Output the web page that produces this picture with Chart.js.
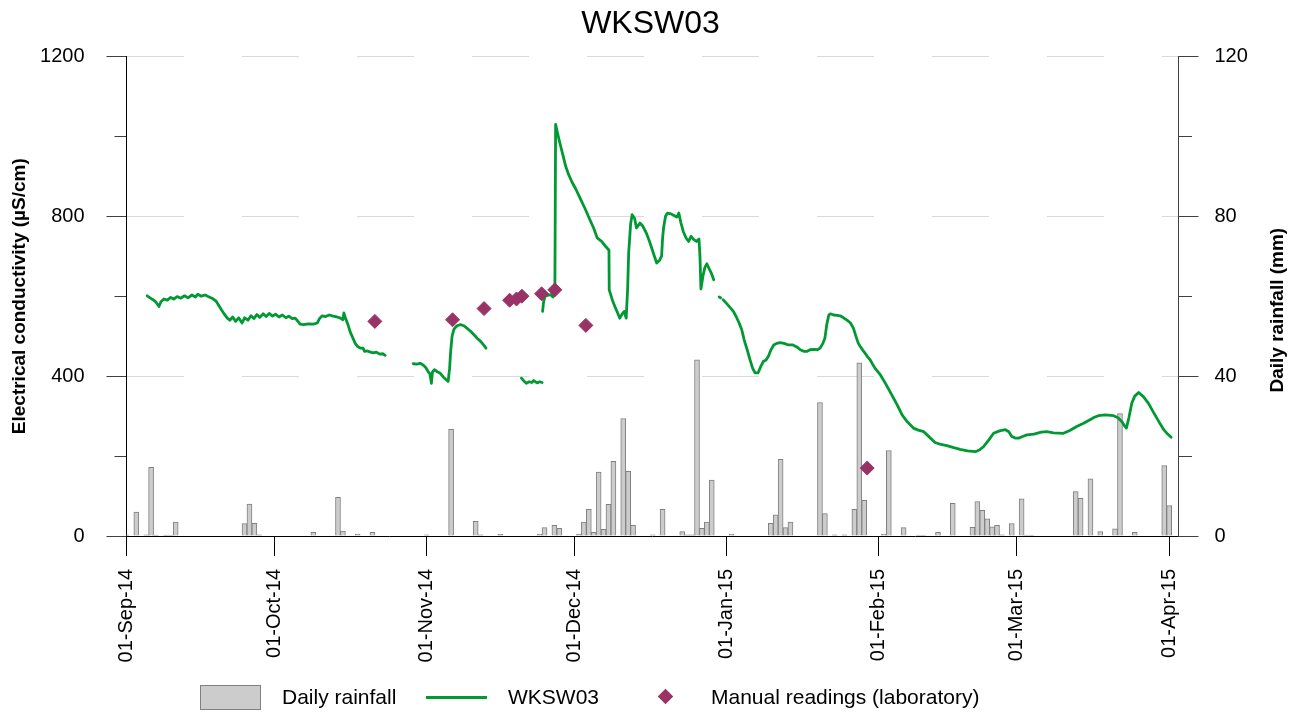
<!DOCTYPE html>
<html>
<head>
<meta charset="utf-8">
<title>WKSW03</title>
<script src="https://cdn.jsdelivr.net/npm/chart.js@4.4.1/dist/chart.umd.min.js"></script>
<style>
  body { margin: 0; background: #fff; }
  #wrap {
    position: relative;
    width: 1301px;
    height: 718px;
    overflow: hidden;
    font-family: 'Liberation Sans', Arial, sans-serif;
  }
  #chart { position: absolute; left: 0; top: 0; }
  .lg { position: absolute; }
  .lg-text { font-size: 21px; line-height: 24px; top: 685px; color: #000; white-space: nowrap; }
  .lg-bar { left: 200px; top: 685px; width: 61px; height: 25px; box-sizing: border-box; background: #cccccc; border: 1px solid #808080; }
  .lg-line { left: 426px; top: 696px; width: 61px; height: 3px; background: #009933; }
  .lg-diamond { left: 660px; top: 691px; width: 11px; height: 11px; background: #993366; transform: rotate(45deg); }
</style>
</head>
<body>
<div id="wrap">
  <canvas id="chart" width="1301" height="718"></canvas>
  <div class="lg lg-bar"></div>
  <div class="lg lg-text" style="left:282px">Daily rainfall</div>
  <div class="lg lg-line"></div>
  <div class="lg lg-text" style="left:508px">WKSW03</div>
  <div class="lg lg-diamond"></div>
  <div class="lg lg-text" style="left:711px">Manual readings (laboratory)</div>
</div>
<script>
// x values are days since 01-Sep-14
const monthDays = [0, 30, 61, 91, 122, 153, 181, 212];
const monthLabels = ['01-Sep-14', '01-Oct-14', '01-Nov-14', '01-Dec-14', '01-Jan-15', '01-Feb-15', '01-Mar-15', '01-Apr-15'];

// daily rainfall (mm)
const rainDays = [0, 2, 4, 5, 6, 8, 9, 10, 24, 25, 26, 27, 38, 43, 44, 47, 50, 61, 66, 71, 72, 76,
  84, 85, 87, 88, 92, 93, 94, 95, 96, 97, 98, 99, 101, 102, 103, 107, 109, 113, 114, 115, 116, 117, 118, 119,
  123, 131, 132, 133, 134, 135, 141, 142, 144, 146, 148, 149, 150, 154, 155, 158, 161, 162, 165, 168,
  172, 173, 174, 175, 176, 177, 178, 180, 182, 183, 184, 193, 194, 196, 198, 201, 202, 205, 211, 212];
const rainMm = [0.3, 6.0, 0.3, 17.2, 0.2, 0.2, 0.2, 3.5, 3.1, 8.0, 3.2, 0.3, 0.9, 9.7, 1.2, 0.5, 0.9, 0.3, 26.7, 3.7, 0.3, 0.4,
  0.5, 2.1, 2.7, 1.9, 0.5, 3.5, 6.7, 0.9, 16.0, 1.7, 7.9, 18.7, 29.4, 16.2, 2.7, 0.3, 6.7, 1.1, 0.3, 0.3, 44.1, 1.9, 3.5, 14.0,
  0.5, 3.2, 5.3, 19.2, 2.1, 3.5, 33.4, 5.6, 0.3, 0.3, 6.7, 43.3, 8.9, 0.5, 21.4, 2.1, 0.2, 0.2, 0.9, 8.2,
  2.2, 8.6, 6.4, 4.3, 2.3, 2.7, 0.3, 3.1, 9.3, 0.2, 0.2, 11.1, 9.4, 14.3, 1.1, 1.8, 30.6, 0.9, 17.6, 7.6];

// logger conductivity (uS/cm); null marks a gap in the record
const ecDays = [
  4.2, 4.8, 5.5, 6.0, 6.6, 7.0, 7.6, 8.3, 9.0, 9.6, 10.3, 11.0, 11.8, 12.5, 13.3, 14.0, 14.5, 15.2, 16.0, 16.8,
  17.5, 18.2, 18.8, 19.3, 19.9, 20.5, 21.0, 21.6, 22.2, 22.8, 23.5, 24.0, 24.7, 25.3, 25.9, 26.5, 27.1, 27.8,
  28.4, 29.0, 29.7, 30.3, 31.0, 31.7, 32.4, 33.0, 33.7, 34.3, 34.8, 35.3, 36.0, 37.0, 38.0, 38.8, 39.3, 39.8,
  40.5, 41.2, 42.0, 42.8, 43.5, 44.0, 44.2, 44.5, 45.0, 45.5, 45.9, 46.5, 47.0, 47.6, 48.1, 48.4, 49.0, 49.6,
  50.2, 50.8, 51.5, 52.1, 52.6,
  55.0,
  58.3, 59.0, 59.7, 60.3, 60.8, 61.3, 61.7, 62.0, 62.2, 62.6, 63.2, 63.8, 64.4, 65.0, 65.4, 65.7, 65.9, 66.2,
  66.6, 67.2, 67.9, 68.6, 69.2, 69.9, 70.6, 71.3, 72.0, 72.6, 73.1,
  76.0,
  80.3, 80.8, 81.3, 81.9, 82.4, 82.8, 83.5, 84.0, 84.5,
  84.55,
  84.6, 84.8, 85.1, 85.6, 86.2, 86.7, 87.1, 87.25, 87.6, 88.1, 88.7, 89.3, 89.9, 90.6, 91.4, 92.2, 93.2, 94.2,
  95.0, 95.7, 96.6, 97.4, 98.1, 98.15, 98.8, 99.3, 99.8, 100.3, 100.8, 101.2, 101.6, 101.9, 102.1, 102.5, 102.8,
  103.3, 103.7, 104.4, 105.0, 105.7, 106.4, 107.2, 107.8, 108.4, 108.8, 109.0, 109.2, 109.6, 110.0, 110.7, 111.3,
  111.9, 112.3, 112.7, 113.2, 113.8, 114.3, 114.8, 115.3, 115.9, 116.4, 116.6, 116.8, 117.2, 117.6, 118.0, 118.5,
  119.0, 119.4,
  120.0,
  120.5, 120.8,
  121.0,
  121.3, 122.0, 122.7, 123.4, 124.0, 124.6, 125.1, 125.6, 126.2, 126.8, 127.3, 127.8, 128.4, 129.0, 129.5, 130.0,
  130.5, 131.0, 131.6, 132.2, 132.9, 133.7, 134.6, 135.5, 136.3, 137.0, 137.7, 138.4, 139.0, 139.8, 140.5, 141.0,
  141.6, 142.0, 142.4, 142.8, 143.1, 143.8, 144.5, 145.1, 145.8, 146.5, 147.2, 147.8, 148.3, 148.8, 149.2, 149.7,
  150.2, 150.7, 151.2, 151.7, 152.3, 153.3, 154.4, 155.6, 156.7, 157.7, 158.8, 160.0, 161.0, 162.1, 163.2, 164.4,
  165.6, 166.8, 168.2, 169.5, 171.0, 172.6, 173.5, 174.3, 175.3, 176.3, 177.5, 178.7, 179.4, 180.0, 180.7, 181.4,
  182.2, 183.1, 184.5, 186.0, 187.1, 188.5, 190.5, 191.8, 193.2, 194.6, 195.9, 196.8, 197.6, 199.0, 200.7, 201.6,
  202.4, 202.9, 203.3, 203.8, 204.4, 205.0, 205.8, 206.8, 207.8, 208.7, 209.5, 210.2, 210.9, 211.7, 212.4
];
const ecValues = [
  601, 596, 590, 585, 574, 586, 593, 590, 597, 593, 599, 595, 601, 596, 603, 598, 605, 600, 603, 598,
  594, 588, 576, 566, 555, 545, 540, 548, 537, 546, 533, 546, 540, 551, 544, 554, 547, 556,
  549, 557, 550, 555, 548, 553, 546, 550, 544, 545, 538, 530, 529, 531, 530, 533, 545, 551,
  549, 553, 550, 548, 545, 541, 558, 546, 530, 510, 499, 482, 474, 470, 470, 462, 463, 460,
  458, 460, 455, 456, 452,
  null,
  431, 430, 432, 428, 422, 412, 405, 382, 410, 416, 411, 407, 398, 391, 387, 420, 460, 500,
  518, 526, 529, 526, 520, 513, 504, 495, 487, 478, 470,
  null,
  395, 388, 382, 386, 384, 389, 383, 386, 384,
  null,
  562, 585, 600, 602, 604, 598, 604, 1030, 1010, 984, 955, 925, 904, 885, 867, 846, 820, 792,
  770, 746, 737, 725, 715, 616, 590, 574, 560, 545, 556, 562, 545, 620, 708, 780, 804,
  795, 771, 783, 775, 758, 735, 705, 683, 690, 700, 745, 771, 800, 808, 806, 802,
  798, 808, 785, 762, 745, 737, 750, 742, 737, 743, 700, 618, 650, 672, 681, 668,
  655, 641,
  null,
  598, 596,
  null,
  591, 582, 572, 562, 548, 532, 516, 490, 466, 440, 420, 408, 408, 425, 437, 440,
  449, 465, 478, 482, 484, 482, 478, 478, 473, 466, 462, 462, 466, 467, 466, 470,
  482, 495, 530, 553, 556, 553, 552, 551, 546, 540, 533, 520, 500, 482, 474, 465,
  457, 448, 441, 430, 418, 403, 380, 353, 328, 303, 285, 270, 265, 261, 248, 234,
  229, 226, 221, 217, 213, 211, 216, 224, 240, 257, 263, 266, 261, 249, 245, 245,
  249, 253, 255, 260, 261, 258, 257, 264, 274, 282, 291, 297, 301, 303, 301, 296,
  286, 276, 270, 295, 332, 350, 359, 348, 332, 312, 295, 280, 266, 255, 247
];

// laboratory samples (uS/cm)
const labDays = [50.5, 66.3, 72.7, 77.9, 79.3, 80.4, 84.4, 87.1, 93.4, 150.6];
const labValues = [537, 541, 569, 590, 593, 600, 606, 616, 527, 170];

const FONT = "'Liberation Sans', Arial, sans-serif";
Chart.defaults.font.family = FONT;
Chart.defaults.color = '#000';

function points(xs, ys) {
  return xs.map((x, i) => ({ x: x, y: ys[i] }));
}

// right-hand axis title reads bottom-to-top like the left one
const rightAxisTitle = {
  id: 'rightAxisTitle',
  afterDraw(chart) {
    const ctx = chart.ctx;
    const area = chart.chartArea;
    ctx.save();
    ctx.translate(1278, (area.top + area.bottom) / 2 + 14);
    ctx.rotate(-Math.PI / 2);
    ctx.font = `bold 19px ${FONT}`;
    ctx.fillStyle = '#000';
    ctx.textAlign = 'center';
    ctx.textBaseline = 'middle';
    ctx.fillText('Daily rainfall (mm)', 0, 0);
    ctx.restore();
  }
};

new Chart(document.getElementById('chart'), {
  data: {
    datasets: [
      {
        type: 'bar',
        label: 'Daily rainfall',
        yAxisID: 'y1',
        data: points(rainDays, rainMm),
        backgroundColor: '#cccccc',
        borderColor: '#808080',
        borderWidth: 1,
        barThickness: 5,
        order: 3
      },
      {
        type: 'line',
        label: 'WKSW03',
        yAxisID: 'y',
        data: points(ecDays, ecValues),
        borderColor: '#009933',
        borderWidth: 2.8,
        borderJoinStyle: 'round',
        borderCapStyle: 'round',
        pointRadius: 0,
        spanGaps: false,
        tension: 0,
        order: 2
      },
      {
        type: 'line',
        label: 'Manual readings (laboratory)',
        yAxisID: 'y',
        data: points(labDays, labValues),
        showLine: false,
        pointStyle: 'rectRot',
        pointRadius: 7,
        backgroundColor: '#993366',
        borderColor: '#993366',
        borderWidth: 1,
        order: 1
      }
    ]
  },
  options: {
    responsive: false,
    animation: false,
    events: [],
    layout: { padding: 0 },
    plugins: {
      legend: { display: false },
      tooltip: { enabled: false },
      title: {
        display: true,
        text: 'WKSW03',
        color: '#000',
        font: { size: 32, weight: 'normal' },
        padding: { top: 5, bottom: 13 }
      }
    },
    scales: {
      x: {
        type: 'linear',
        position: 'bottom',
        min: 0,
        max: 213.9,
        offset: false,
        afterBuildTicks(scale) {
          scale.ticks = monthDays.map((v) => ({ value: v }));
        },
        afterFit(scale) {
          scale.height = 182;
        },
        ticks: {
          autoSkip: false,
          maxRotation: 90,
          minRotation: 90,
          padding: 13,
          color: '#000',
          font: { size: 20 },
          callback: (value) => monthLabels[monthDays.indexOf(value)]
        },
        grid: {
          offset: false,
          drawOnChartArea: false,
          tickLength: 20,
          tickColor: '#000'
        },
        border: { color: '#000', width: 1 }
      },
      y: {
        type: 'linear',
        position: 'left',
        min: 0,
        max: 1200,
        afterFit(scale) {
          scale.width = 126.5;
        },
        ticks: {
          stepSize: 200,
          padding: 22,
          color: '#000',
          font: { size: 20 },
          callback: (value) => (value % 400 === 0 ? value : '')
        },
        grid: {
          color: (ctx) => (ctx.tick && ctx.tick.value > 0 && ctx.tick.value % 400 === 0 ? '#d9d9d9' : 'transparent'),
          lineWidth: 1,
          tickLength: 20,
          tickColor: '#404040',
          tickBorderDash: (ctx) => (ctx.tick && ctx.tick.value % 400 === 0 ? [] : [0, 8, 12, 100])
        },
        border: { color: '#000', width: 1, dash: [57, 58] },
        title: {
          display: true,
          text: 'Electrical conductivity (µS/cm)',
          color: '#000',
          font: { size: 19, weight: 'bold' },
          padding: { top: 8, bottom: 0 }
        }
      },
      y1: {
        type: 'linear',
        position: 'right',
        min: 0,
        max: 120,
        afterFit(scale) {
          scale.width = 122.5;
        },
        ticks: {
          stepSize: 20,
          padding: 16,
          color: '#000',
          font: { size: 20 },
          callback: (value) => (value % 40 === 0 ? value : '')
        },
        grid: {
          drawOnChartArea: false,
          tickLength: 20,
          tickColor: '#404040',
          tickBorderDash: (ctx) => (ctx.tick && ctx.tick.value % 40 === 0 ? [] : [13, 100])
        },
        border: { color: '#404040', width: 1 }
      }
    }
  },
  plugins: [rightAxisTitle]
});
</script>
</body>
</html>
